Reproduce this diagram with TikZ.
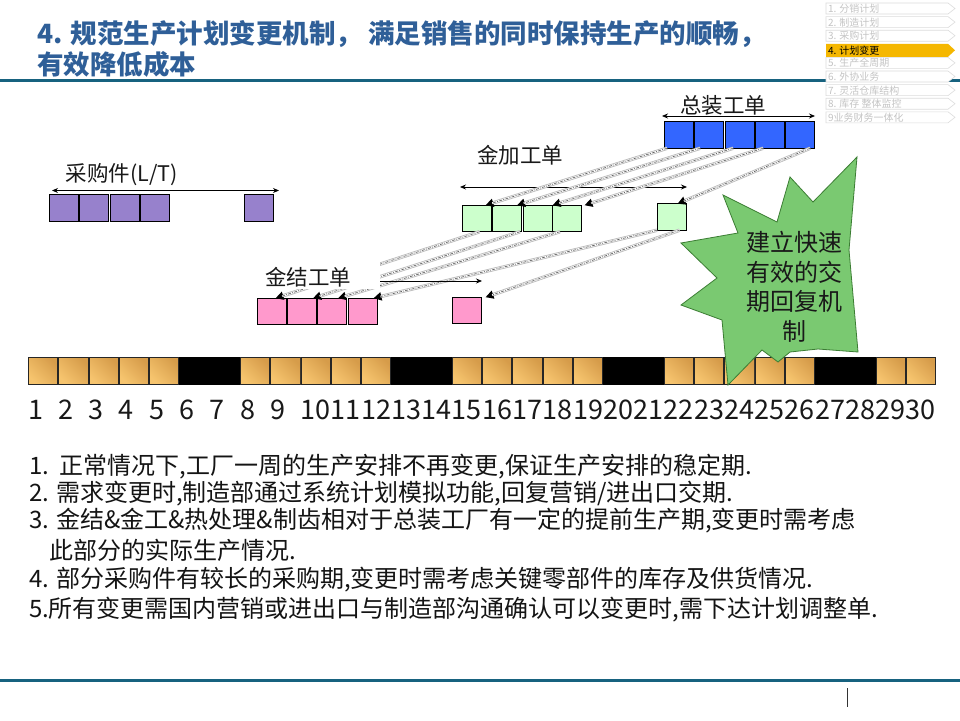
\documentclass[tikz,border=0pt]{standalone}
\usepackage{fontspec}
\setmainfont{Noto Sans CJK SC}
\usetikzlibrary{arrows.meta,calc}
\definecolor{titleblue}{HTML}{2F5F98}
\definecolor{ruleblue}{HTML}{17627F}
\definecolor{gold1}{HTML}{F6C46E}
\definecolor{gold2}{HTML}{D69C4A}
\definecolor{purp}{HTML}{9781CC}
\definecolor{lgreen}{HTML}{CCFFCC}
\definecolor{bblue}{HTML}{3366FF}
\definecolor{pinkc}{HTML}{FF99CC}
\definecolor{burstfill}{HTML}{7AC971}
\definecolor{burstline}{HTML}{3B7D33}
\definecolor{navorange}{HTML}{F5B700}
\definecolor{navgrey}{HTML}{C4C4C4}
\definecolor{navline}{HTML}{DCDCDC}
\begin{document}
\begin{tikzpicture}[x=1pt,y=-1pt,
  every node/.style={inner sep=0pt, outer sep=0pt},
  navbox/.style={draw=navline, fill=white, line width=0.6pt},
  navtext/.style={anchor=west, text=navgrey, font=\fontsize{10}{11}\selectfont},
  goldcell/.style={draw=black!85, line width=0.8pt, minimum width=29.3pt, minimum height=27pt,
     shading=axis, top color=gold1, bottom color=gold2, shading angle=135},
  blackcell/.style={draw=black, fill=black, line width=0.8pt, minimum width=29.3pt, minimum height=27pt},
  daynum/.style={font=\fontsize{27}{30}\selectfont, text=black!90},
  ordcell/.style={draw=black, line width=0.9pt, minimum width=29pt, minimum height=26.5pt},
  lbl/.style={font=\fontsize{21.5}{24}\selectfont, text=black!90},
  dbl/.style={draw=black, line width=0.8pt, {Stealth[length=6pt,width=5pt]}-{Stealth[length=6pt,width=5pt]}},
  sgl/.style={draw=black, line width=0.8pt, -{Stealth[length=6pt,width=5pt]}},
  conn/.style={draw=black!28, line width=3.4pt, -{Triangle[length=8pt,width=8pt,color=black]},
     postaction={draw=white, line width=1.8pt, -, shorten >=7pt},
     postaction={draw=black!60, line width=0.7pt, -, shorten >=7pt, dash pattern=on 3pt off 1.2pt on 1pt off 1.2pt}},
  bodytext/.style={anchor=west, font=\fontsize{24}{28}\selectfont, text=black!92}
]
\useasboundingbox (0,0) rectangle (960,720);
\fill[white] (0,0) rectangle (960,720);

% title
\node[anchor=west, text=titleblue, font=\fontsize{26.5}{30}\selectfont\bfseries] (t1) at (37,34) {4. 规范生产计划变更机制， 满足销售的同时保持生产的顺畅，};
\node[anchor=west, text=titleblue, font=\fontsize{26.5}{30}\selectfont\bfseries] (t2) at (37,64) {有效降低成本};
\draw[ruleblue, line width=3pt] (0,80) -- (960,80);
\draw[ruleblue, line width=3pt] (0,680) -- (960,680);
\draw[black!80, line width=0.8pt] (847,688) -- (847,707);

% navigation menu
\foreach \i/\t in {1/1. 分销计划,2/2. 制造计划,3/3. 采购计划,5/5. 生产全周期,6/6. 外协业务,7/7. 灵活仓库结构,8/8. 库存 整体监控,9/9业务财务一体化}{
  \pgfmathsetmacro\yt{3+(\i-1)*13.6}
  \draw[navbox] (826,\yt) -- (948,\yt) -- (955,\yt+5.5) -- (948,\yt+11) -- (826,\yt+11) -- cycle;
  \node[navtext] (nav\i) at (828,\yt+5.7) {\t};
}
\fill[navorange] (826,43.8) -- (948,43.8) -- (955,50.3) -- (948,56.8) -- (826,56.8) -- cycle;
\node[navtext, text=black] (nav4) at (828,50.2) {4. 计划变更};

% time line
\foreach \i in {1,...,30}{
  \pgfmathtruncatemacro\w{mod(\i,7)}
  \pgfmathsetmacro\xc{28+(\i-0.5)*30.27}
  \ifnum\w=6 \def\cst{blackcell}\else\ifnum\w=0 \def\cst{blackcell}\else\def\cst{goldcell}\fi\fi
  \node[\cst] (d\i) at (\xc,370.5) {};
  \pgfmathsetmacro\xn{\i<10 ? \xc-7.5 : \xc}
  \node[daynum] (n\i) at (\xn,410) {\i};
}

% purchase parts
\foreach \n/\x in {1/64,2/94,3/124.5,4/154.5,5/258.5}{
  \node[ordcell, fill=purp] (p\n) at (\x,208) {};
}
\node[lbl] (plbl) at (122,175) {采购件(L/T)};
\coordinate (pa) at (52,190.5);
\coordinate (pb) at (279,190.5);
\draw[dbl] (pa) -- (pb);

% machining orders
\foreach \n/\x in {1/476.5,2/507,3/537.5,4/567}{
  \node[ordcell, fill=lgreen] (g\n) at (\x,218.5) {};
}
\node[ordcell, fill=lgreen] (g5) at (671.5,217) {};
\node[lbl] (glbl) at (520,155) {金加工单};
\coordinate (ga) at (460,187);
\coordinate (gb) at (687,187);
\draw[dbl] (ga) -- (gb);

% assembly orders
\foreach \n/\x in {1/678.5,2/708.5,3/739.5,4/769.5,5/799.5}{
  \node[ordcell, fill=bblue] (k\n) at (\x,135) {};
}
\node[lbl] (klbl) at (723,105) {总装工单};
\coordinate (ka) at (662,116);
\coordinate (kb) at (815,116);
\draw[dbl] (ka) -- (kb);

% structure orders
\foreach \n/\x in {1/271.5,2/302,3/332,4/362.5}{
  \node[ordcell, fill=pinkc] (m\n) at (\x,311.5) {};
}
\node[ordcell, fill=pinkc] (m5) at (467,310.5) {};

% connectors assembly -> machining
\draw[conn] ($(k1.south west)+(3,0)$) -- ($(g1.north)+(9,0)$);
\draw[conn] ($(k2.south west)+(6,0)$) -- ($(g2.north)+(10,0)$);
\draw[conn] ($(k3.south west)+(8,0)$) -- ($(g3.north)+(15,0)$);
\draw[conn] ($(k4.south west)+(8,0)$) -- ($(g4.north east)+(3,0)$);
\draw[conn] ($(k5.south east)+(-4,0)$) -- ($(g5.north)+(6,0)$);
% connectors machining -> structure
\draw[conn] ($(g1.south)+(3,0)$) -- ($(m1.north)+(4,0)$);
\draw[conn] ($(g2.south)+(13,0)$) -- ($(m2.north)+(11,0)$);
\draw[conn] ($(g4.south)+(-7,0)$) -- ($(m3.north)+(6,0)$);
\draw[conn] (g5.south west) -- ($(m4.north)+(11,0)$);
\draw[conn] ($(g5.south)+(8,0)$) -- ($(m5.north east)+(4,0)$);

\fill[white] (256,259) rectangle (380,289);
\node[lbl] (mlbl) at (308,277) {金结工单};
\coordinate (ma) at (380,281);
\coordinate (mb) at (482,281);
\draw[sgl] (ma) -- (mb);

% starburst
\draw[fill=burstfill, draw=burstline, line width=0.8pt, line join=miter]
  (857,157) -- (849,250) -- (858,352) -- (818,349) -- (790,352) -- (778,362) -- (762,350)
  -- (728,385) -- (722,320)
  -- (681,305) -- (717,278) -- (681,243) -- (738,233) -- (723,195) -- (777,222)
  -- (790,177) -- (813,202) -- cycle;
\node[align=center, font=\fontsize{24}{29.5}\selectfont, text=black!90] (burst) at (794,287)
  {建立快速\\有效的交\\期回复机\\制};

% text
\node[bodytext] (l1) at (29,467) {1.\ \ 正常情况下,工厂一周的生产安排不再变更,保证生产安排的稳定期.};
\node[bodytext] (l2) at (29,494) {2. 需求变更时,制造部通过系统计划模拟功能,回复营销/进出口交期.};
\node[bodytext] (l3) at (29,521) {3. 金结\&金工\&热处理\&制齿相对于总装工厂有一定的提前生产期,变更时需考虑};
\node[bodytext] (l3b) at (49,550) {此部分的实际生产情况.};
\node[bodytext] (l4) at (29,580) {4. 部分采购件有较长的采购期,变更时需考虑关键零部件的库存及供货情况.};
\node[bodytext] (l5) at (29,610) {5.所有变更需国内营销或进出口与制造部沟通确认可以变更时,需下达计划调整单.};
\end{tikzpicture}
\end{document}
